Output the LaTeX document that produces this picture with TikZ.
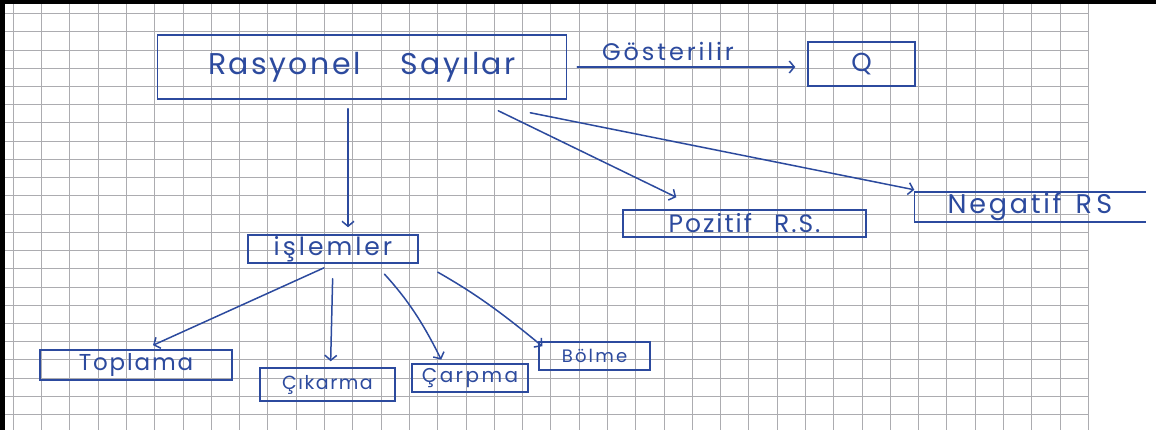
\documentclass[tikz,border=0pt]{standalone}
\usepackage{fontspec}
\setmainfont{Poppins}
\usetikzlibrary{arrows.meta}

\definecolor{ink}{RGB}{44,74,158}
\definecolor{gridgray}{RGB}{172,172,176}

\tikzset{
  gridline/.style={draw=gridgray, line width=0.85pt},
  box/.style={draw=ink, line width=1.5pt, text=ink, inner sep=0pt},
  openbox/.style={text=ink, inner sep=0pt},
  link/.style={draw=ink, line width=1.5pt, line cap=round,
    -{Straight Barb[length=5pt,width=12pt,line width=1.5pt]}},
  lbl/.style={text=ink, inner sep=0pt},
  % hand/.style={size}{letter spacing}
  hand/.style 2 args={font=\fontsize{#1}{#1}\selectfont\addfontfeature{LetterSpace=#2}}
}

\begin{document}
\begin{tikzpicture}[x=1pt, y=-1pt]
  % page area
  \useasboundingbox (0,0) rectangle (1156,430);
  \fill[white] (0,0) rectangle (1156,430);

  % squared paper
  \foreach \k in {0,...,38}
    \draw[gridline] ({13.3+28.29*\k},4) -- ({13.3+28.29*\k},430);
  \foreach \k in {0,...,22}
    \draw[gridline] (5,{13.5+18.23*\k}) -- (1088.3,{13.5+18.23*\k});

  % scan edges
  \fill[black] (0,0) rectangle (1156,4);
  \fill[black] (0,0) rectangle (5,430);

  % concept boxes
  \node[box, hand={30}{8}, minimum width=409pt, minimum height=64pt] (rs) at (362,67) {Rasyonel\hspace{40pt}Sayılar};
  \node[box, hand={26}{0}, minimum width=107pt, minimum height=44pt] (q) at (861.5,64) {Q};
  \node[box, hand={25}{12}, minimum width=170pt, minimum height=28pt] (isl) at (333,249) {işlemler};
  \node[box, hand={25}{8}, minimum width=243pt, minimum height=27pt] (poz) at (744.5,223.5) {Pozitif\hspace{22pt}R.S.};
  \node[openbox, hand={27}{10}, minimum width=231pt, minimum height=30pt] (neg) at (1030,207) {Negatif\hspace{14pt}R\,S};
  \draw[ink, line width=1.5pt] (neg.north east) -- (neg.north west) -- (neg.south west) -- (neg.south east);

  \node[box, hand={23}{8}, minimum width=192pt, minimum height=30pt] (top) at (136,365) {Toplama};
  \node[box, hand={19}{8}, minimum width=135pt, minimum height=33pt] (cik) at (327.5,384.5) {Çıkarma};
  \node[box, hand={20}{12}, minimum width=116pt, minimum height=28pt] (carp) at (470,378) {Çarpma};
  \node[box, hand={18}{12}, minimum width=111pt, minimum height=28pt] (bol) at (594.5,356) {Bölme};

  % connectors
  \draw[link, shorten <=10pt, shorten >=12pt] (rs.east) -- (rs.east -| q.west)
    node[lbl, hand={24}{12}, pos=0.42, above=6pt] (gos) {Gösterilir};
  \draw[link, shorten <=9pt, shorten >=7pt]
    ([xshift=15pt]isl.north |- rs.south) -- ([xshift=15pt]isl.north);
  \draw[link] ([xshift=-69pt,yshift=-11pt]rs.south east) -- ([xshift=54pt,yshift=12pt]poz.north west);
  \draw[link] ([xshift=-37pt,yshift=-13pt]rs.south east) -- ([yshift=2pt]neg.north west);

  \draw[link, shorten <=10pt] (isl.south) -- ([xshift=17pt,yshift=4pt]top.north);
  \draw[link, shorten <=15pt, shorten >=6pt] (isl.south) -- ([xshift=3pt]cik.north);
  \draw[link, shorten <=14pt, shorten >=4pt] ([xshift=42pt]isl.south) to[bend left=8] ([xshift=-27pt]carp.north);
  \draw[link, shorten <=17pt] ([xshift=90pt]isl.south) to[bend left=5] ([xshift=4pt,yshift=-5pt]bol.north west);
\end{tikzpicture}
\end{document}
